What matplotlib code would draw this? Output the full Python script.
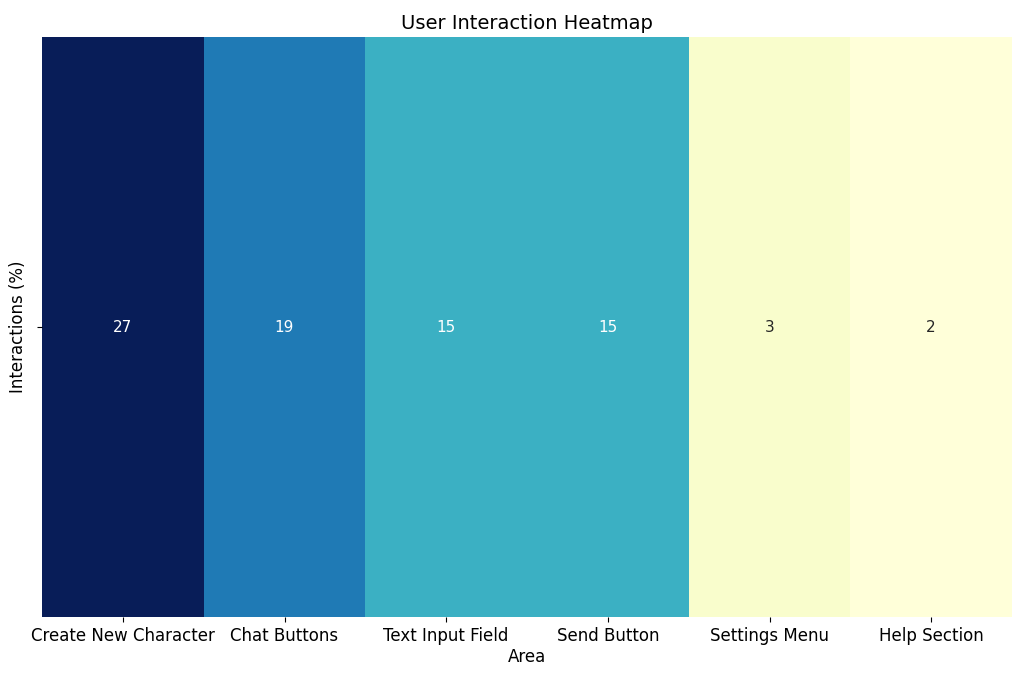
import matplotlib
matplotlib.use("Agg")
import matplotlib.pyplot as plt
import numpy as np

areas = ["Create New Character", "Chat Buttons", "Text Input Field", "Send Button", "Settings Menu", "Help Section"]
values = [27, 19, 15, 15, 3, 2]

fig = plt.figure(figsize=(10.24, 6.83), dpi=100)
ax = fig.add_axes([42/1024, 1-617/683, 970/1024, 580/683])
data = np.array([values])
cmap = plt.get_cmap("YlGnBu")
ax.pcolormesh(data, cmap=cmap, vmin=min(values), vmax=max(values))
ax.set_xlim(0, len(values)); ax.set_ylim(1, 0)
norm = plt.Normalize(min(values), max(values))
for i, v in enumerate(values):
    c = "white" if norm(v) > 0.5 else "#262626"
    ax.text(i + 0.5, 0.5, str(v), ha="center", va="center", color=c, fontsize=11)
ax.set_xticks(np.arange(len(values)) + 0.5)
ax.set_xticklabels(areas, fontsize=12)
ax.set_yticks([0.5]); ax.set_yticklabels([""])
for s in ax.spines.values():
    s.set_visible(False)
ax.set_xlabel("Area", fontsize=12, labelpad=2)
ax.set_ylabel("Interactions (%)", fontsize=12)
ax.set_title("User Interaction Heatmap", fontsize=14, pad=6)
fig.savefig("out.png", dpi=100)
